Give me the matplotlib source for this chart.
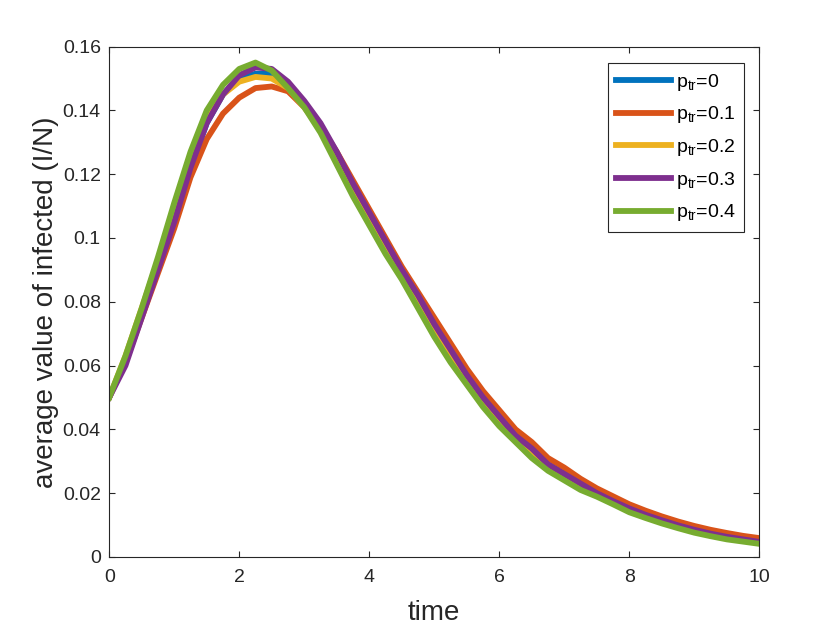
import numpy as np
import matplotlib
matplotlib.use("Agg")
import matplotlib.pyplot as plt
from matplotlib.ticker import FormatStrFormatter

# -------------------------------------------------
# DATA
# -------------------------------------------------

time = np.linspace(0, 10, 41)

p_tr_0 = [0.050, 0.062, 0.076, 0.091, 0.106, 0.122, 0.136, 0.145, 0.150, 0.1515,
          0.1515, 0.148, 0.142, 0.135, 0.126, 0.116, 0.107, 0.098, 0.089, 0.081,
          0.072, 0.064, 0.057, 0.050, 0.044, 0.038, 0.034, 0.029, 0.026, 0.023,
          0.020, 0.0175, 0.015, 0.013, 0.0113, 0.0098, 0.0084, 0.0072, 0.0062, 0.0054,
          0.0047]

p_tr_01 = [0.050, 0.061, 0.075, 0.089, 0.103, 0.119, 0.131, 0.139, 0.144, 0.147,
           0.1475, 0.146, 0.141, 0.135, 0.127, 0.118, 0.109, 0.100, 0.091, 0.083,
           0.075, 0.067, 0.059, 0.052, 0.046, 0.040, 0.036, 0.031, 0.028, 0.0245,
           0.0215, 0.019, 0.0165, 0.0145, 0.0127, 0.0111, 0.0097, 0.0085, 0.0075, 0.0066,
           0.0059]

p_tr_02 = [0.050, 0.063, 0.078, 0.093, 0.109, 0.124, 0.137, 0.145, 0.149, 0.1505,
           0.150, 0.147, 0.141, 0.134, 0.125, 0.115, 0.106, 0.097, 0.089, 0.080,
           0.071, 0.063, 0.056, 0.049, 0.043, 0.037, 0.033, 0.028, 0.025, 0.022,
           0.0195, 0.017, 0.0146, 0.0127, 0.011, 0.0095, 0.0081, 0.0069, 0.0059, 0.0051,
           0.0044]

p_tr_03 = [0.050, 0.060, 0.075, 0.090, 0.105, 0.122, 0.136, 0.145, 0.151, 0.1535,
           0.153, 0.149, 0.143, 0.136, 0.127, 0.117, 0.108, 0.099, 0.090, 0.082,
           0.073, 0.065, 0.057, 0.050, 0.044, 0.038, 0.034, 0.029, 0.026, 0.023,
           0.020, 0.0175, 0.0152, 0.0132, 0.0115, 0.0099, 0.0085, 0.0073, 0.0063, 0.0055,
           0.0047]

p_tr_04 = [0.050, 0.063, 0.078, 0.094, 0.111, 0.127, 0.140, 0.148, 0.153, 0.155,
           0.1525, 0.147, 0.141, 0.133, 0.123, 0.113, 0.104, 0.095, 0.087, 0.078,
           0.069, 0.061, 0.054, 0.047, 0.041, 0.036, 0.031, 0.027, 0.024, 0.021,
           0.0189, 0.0165, 0.0140, 0.0122, 0.0105, 0.0090, 0.0076, 0.0065, 0.0055, 0.0048,
           0.0041]

series = [p_tr_0, p_tr_01, p_tr_02, p_tr_03, p_tr_04]
labels = ["0", "0.1", "0.2", "0.3", "0.4"]

colors = ["#0072BD", "#D95319", "#EDB120", "#7E2F8E", "#77AC30"]

x_ticks = [0, 2, 4, 6, 8, 10]
y_ticks = [0, 0.02, 0.04, 0.06, 0.08, 0.1, 0.12, 0.14, 0.16]

# -------------------------------------------------
# PLOT
# -------------------------------------------------

plt.rcParams["font.family"] = ["Liberation Sans", "DejaVu Sans"]
plt.rcParams["mathtext.fontset"] = "custom"
plt.rcParams["mathtext.rm"] = "Liberation Sans"
plt.rcParams["mathtext.it"] = "Liberation Sans"

fig = plt.figure(figsize=(8.4, 6.3), dpi=100)
ax = fig.add_axes([0.130, 0.116, 0.774, 0.810])

for values, lab, col in zip(series, labels, colors):
    ax.plot(
        time,
        values,
        color=col,
        linewidth=4.2,
        label=r"p$_{\mathregular{tr}}$=" + lab
    )

ax.set_xlim(0, 10)
ax.set_ylim(0, 0.16)
ax.set_xticks(x_ticks)
ax.set_yticks(y_ticks)
ax.yaxis.set_major_formatter(FormatStrFormatter("%g"))

ax.tick_params(
    direction="in",
    top=True,
    right=True,
    length=4.5,
    width=0.8,
    labelsize=14,
    colors="#262626"
)
ax.tick_params(axis="x", pad=9)
ax.tick_params(axis="y", pad=6)

for spine in ax.spines.values():
    spine.set_color("#262626")
    spine.set_linewidth(0.8)

ax.set_xlabel("time", fontsize=20, color="#262626", labelpad=10)
ax.set_ylabel("average value of infected (I/N)", fontsize=20, color="#262626", labelpad=3)

legend = ax.legend(
    loc="upper right",
    bbox_to_anchor=(0.977, 0.968),
    borderaxespad=0,
    fontsize=14,
    handlelength=2.8,
    handletextpad=0.25,
    labelspacing=0.6,
    borderpad=0.45,
    fancybox=False,
    framealpha=1
)
legend.get_frame().set_edgecolor("#262626")
legend.get_frame().set_linewidth(0.8)

fig.savefig("out.png", dpi=100)
